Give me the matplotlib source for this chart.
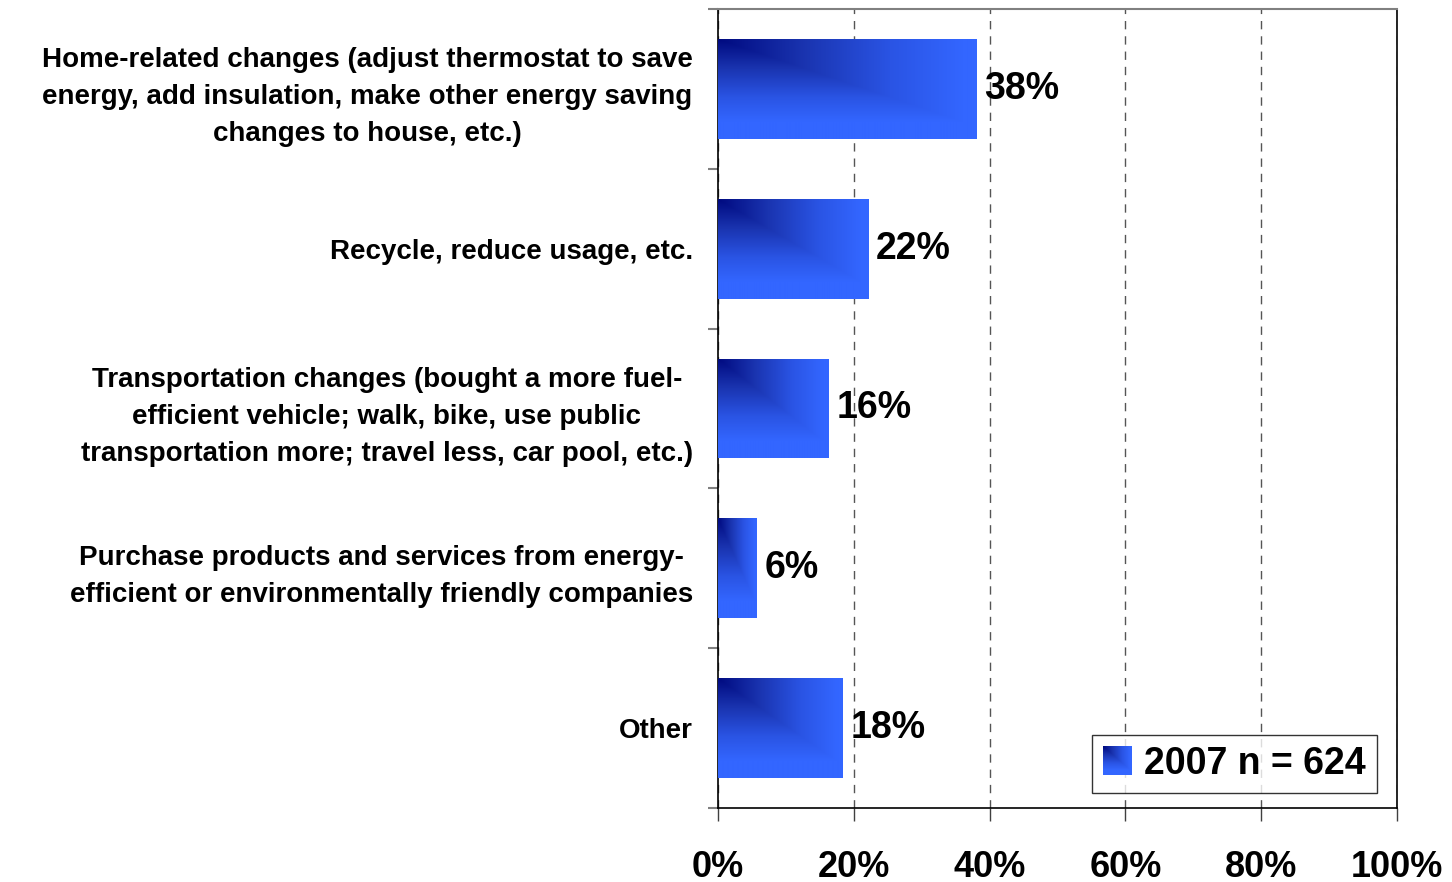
import numpy as np
import matplotlib
matplotlib.use('Agg')
import matplotlib.pyplot as plt
from matplotlib.colors import LinearSegmentedColormap
from matplotlib.legend_handler import HandlerBase
from matplotlib.image import BboxImage
from matplotlib.transforms import Bbox, TransformedBbox
from matplotlib.patches import Rectangle

plt.rcParams['font.family'] = ['Liberation Sans', 'DejaVu Sans']
plt.rcParams['font.weight'] = 'bold'

categories = [
    'Home-related changes (adjust thermostat to save\nenergy, add insulation, make other energy saving\nchanges to house, etc.)',
    'Recycle, reduce usage, etc.',
    'Transportation changes (bought a more fuel-\nefficient vehicle; walk, bike, use public\ntransportation more; travel less, car pool, etc.)',
    'Purchase products and services from energy-\nefficient or environmentally friendly companies',
    'Other',
]
values = [38.0, 22.1, 16.3, 5.7, 18.4]
value_labels = ['38%', '22%', '16%', '6%', '18%']
xticks = [0, 20, 40, 60, 80, 100]
xtick_labels = ['0%', '20%', '40%', '60%', '80%', '100%']
legend_label = '2007 n = 624'

cmap = LinearSegmentedColormap.from_list(
    'blu', [(0, '#000a80'), (0.35, '#1a34b0'), (0.7, '#2a54e4'), (1, '#3366ff')])


def corner_gradient(nx=200, ny=100):
    u = np.linspace(0, 1, nx)[None, :]
    v = np.linspace(0, 1, ny)[:, None]
    t = np.clip(np.maximum(u * 1.05, v * 1.2), 0, 1)
    return t


fig = plt.figure(figsize=(14.52, 8.82), dpi=100)
ax = fig.add_axes([718 / 1452, 1 - 808 / 882, 679 / 1452, 799 / 882])

ypos = np.arange(len(categories))
bars = ax.barh(ypos, values, height=0.625, color='none', edgecolor='none', zorder=3)

grad = corner_gradient()
for b in bars:
    x0, y0 = b.get_x(), b.get_y()
    w, h = b.get_width(), b.get_height()
    im = ax.imshow(grad, cmap=cmap, vmin=0, vmax=1, aspect='auto',
                   extent=(x0, x0 + w, y0 + h, y0), zorder=3, interpolation='bilinear')
    im.set_clip_path(b)

for b, lab in zip(bars, value_labels):
    ax.text(b.get_width() + 1.2, b.get_y() + b.get_height() / 2, lab,
            va='center', ha='left', fontsize=27, fontweight='bold', zorder=5)

ax.set_xlim(0, 100)
ax.set_ylim(len(categories) - 0.5, -0.5)

ax.set_xticks(xticks)
ax.set_xticklabels(xtick_labels, fontsize=26, fontweight='bold')
ax.tick_params(axis='x', length=9, width=1, color='#404040', pad=21)

ax.set_yticks(ypos)
ax.set_yticklabels(categories, fontsize=20, fontweight='bold', linespacing=1.55)
for t in ax.get_yticklabels():
    t.set_multialignment('center')
ax.tick_params(axis='y', which='major', length=0, pad=18)
ax.set_yticks(np.arange(-0.5, len(categories), 1), minor=True)
ax.tick_params(axis='y', which='minor', length=7, width=1.5, color='#808080')

ax.grid(axis='x', linestyle=(0, (6, 5)), color='#555555', linewidth=1, zorder=1)
ax.set_axisbelow(True)

ax.spines['top'].set_color('#808080')
ax.spines['top'].set_linewidth(1.5)
for s in ['left', 'right', 'bottom']:
    ax.spines[s].set_color('black')
    ax.spines[s].set_linewidth(1.2)


class HandlerGradient(HandlerBase):
    def create_artists(self, legend, orig_handle, xdescent, ydescent,
                       width, height, fontsize, trans):
        side = min(width, height) * 1.0
        x0 = (width - side) / 2 - xdescent
        y0 = (height - side) / 2 - ydescent
        bb = TransformedBbox(Bbox.from_bounds(x0, y0, side, side), trans)
        img = BboxImage(bb, cmap=cmap, norm=plt.Normalize(0, 1), interpolation='bilinear')
        img.set_data(corner_gradient(40, 40))
        return [img]


proxy = Rectangle((0, 0), 1, 1)
leg = ax.legend([proxy], [legend_label], handler_map={Rectangle: HandlerGradient()},
                loc='lower right', bbox_to_anchor=(1377 / 1452, 1 - 793 / 882),
                bbox_transform=fig.transFigure, prop={'weight': 'bold', 'size': 27},
                frameon=True, fancybox=False, edgecolor='black', borderpad=0.3,
                handlelength=0.8, handleheight=0.8, handletextpad=0.3, borderaxespad=0)
leg.get_frame().set_linewidth(1)
leg.set_zorder(6)

fig.savefig('out.png', dpi=100)
